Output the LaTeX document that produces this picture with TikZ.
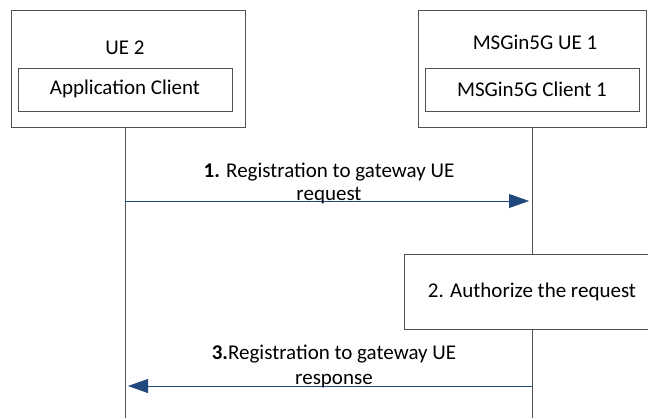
\documentclass[tikz,border=0pt]{standalone}
\usepackage{fontspec}
\setmainfont{Carlito}
\usetikzlibrary{arrows.meta}
\definecolor{msgblue}{RGB}{31,73,125}
\definecolor{linegray}{RGB}{80,80,80}
\begin{document}
\begin{tikzpicture}[x=1pt,y=-1pt,
  box/.style={draw=linegray, line width=0.8pt, fill=white, inner sep=0pt},
  lbl/.style={font=\fontsize{21}{24}\selectfont, inner sep=0pt},
  life/.style={draw=linegray, line width=0.8pt},
  msg/.style={draw=msgblue, line width=0.8pt, -{Triangle[length=20pt,width=14pt]}, shorten >=0pt}]
\useasboundingbox (0,0) rectangle (648,418);
\clip (0,0) rectangle (648,418);
% entities
\node[box, minimum width=234pt, minimum height=117pt] (ue2) at (128,68.5) {};
\node[box, minimum width=214pt, minimum height=43pt] (app) at (125,89.5) {};
\node[lbl] (appt) at (125,89) {Application Client};
\node[lbl] (ue2t) at (125,48) {UE 2};
\node[box, minimum width=228pt, minimum height=117pt] (ue1) at (532.5,68.5) {};
\node[box, minimum width=214pt, minimum height=43pt] (cl1) at (532,89.5) {};
\node[lbl] (cl1t) at (532,89) {MSGin5G Client 1};
\node[lbl] (ue1t) at (535,42) {MSGin5G UE 1};
% lifelines
\coordinate (l1bot) at (125,418);
\coordinate (l2bot) at (532,418);
\draw[life] (ue2.south -| app.center) -- (l1bot);
\node[box, minimum width=250pt, minimum height=75pt] (auth) at (529,291.5) {};
\node[lbl] (autht) at (532,292) {2. Authorize the request};
\draw[life] (ue1.south -| cl1.center) -- (auth.north -| cl1.center);
\draw[life] (auth.south -| cl1.center) -- (l2bot);
% messages
\coordinate (m1s) at (125,201);
\coordinate (m1e) at (529,201);
\draw[msg] (m1s) -- (m1e);
\node[lbl] (m1a) at (329,172) {\textbf{1.} Registration to gateway UE};
\node[lbl] (m1b) at (329,196) {request};
\coordinate (m3s) at (532,386);
\coordinate (m3e) at (128,386);
\draw[msg] (m3s) -- (m3e);
\node[lbl] (m3a) at (334,354) {\textbf{3.}Registration to gateway UE};
\node[lbl] (m3b) at (334,381) {response};
\end{tikzpicture}
\end{document}
